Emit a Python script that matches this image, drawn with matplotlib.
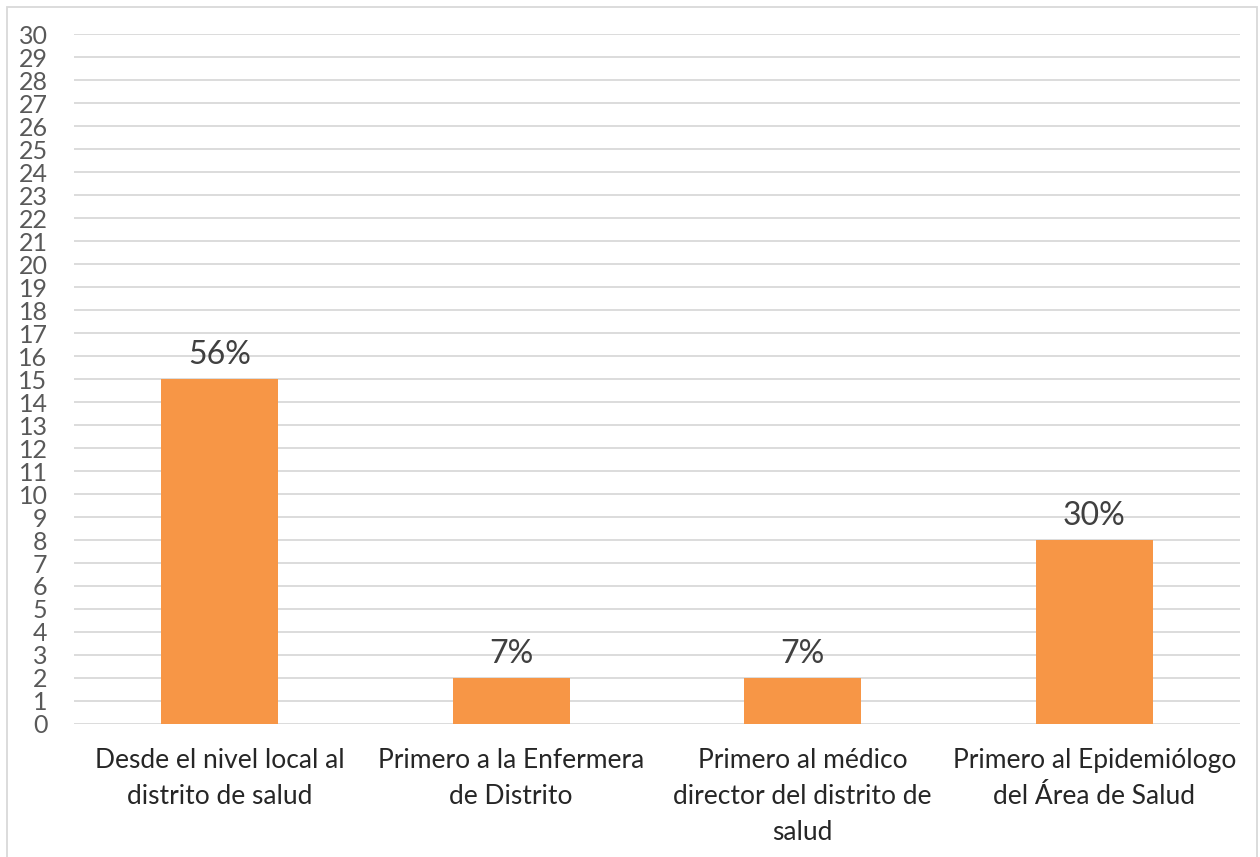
import matplotlib
matplotlib.use("Agg")
import matplotlib.pyplot as plt
from matplotlib.patches import Rectangle

# datos: número de respuestas por vía de notificación
categorias = [
    "Desde el nivel local al\ndistrito de salud",
    "Primero a la Enfermera\nde Distrito",
    "Primero al médico\ndirector del distrito de\nsalud",
    "Primero al Epidemiólogo\ndel Área de Salud",
]
valores = [15, 2, 2, 8]
total = sum(valores)
etiquetas = [f"{round(v / total * 100):.0f}%" for v in valores]

plt.rcParams['font.family'] = ['Lato', 'DejaVu Sans']

fig = plt.figure(figsize=(12.6, 8.57), dpi=100)
ax = fig.add_axes([0.0587, 0.1552, 0.9254, 0.8051])

x = range(len(categorias))
barras = ax.bar(x, valores, width=0.40, color='#F79646', zorder=3)

for b, txt in zip(barras, etiquetas):
    ax.annotate(txt, (b.get_x() + b.get_width() / 2, b.get_height()),
                xytext=(0, 11), textcoords='offset points',
                ha='center', va='baseline', fontsize=23, color='#404040')

ax.set_xlim(-0.5, len(categorias) - 0.5)
ax.set_ylim(0, 30)
ax.set_yticks(range(0, 31))
ax.tick_params(axis='y', length=0, pad=19, labelsize=18, labelcolor='#595959')
ax.set_xticks(list(x))
ax.set_xticklabels(categorias, fontsize=19, color='#262626', linespacing=1.55)
ax.tick_params(axis='x', length=0, pad=17)

ax.grid(axis='y', color='#d9d9d9', linewidth=1.3, zorder=0)
for s in ax.spines.values():
    s.set_visible(False)

# marco exterior del gráfico
fig.patches.append(Rectangle((7 / 1260, -0.01), 1250 / 1260, 1 - 7 / 857 + 0.01,
                             transform=fig.transFigure, fill=False,
                             edgecolor='#d9d9d9', linewidth=1.3))

fig.savefig("out.png", dpi=100)
